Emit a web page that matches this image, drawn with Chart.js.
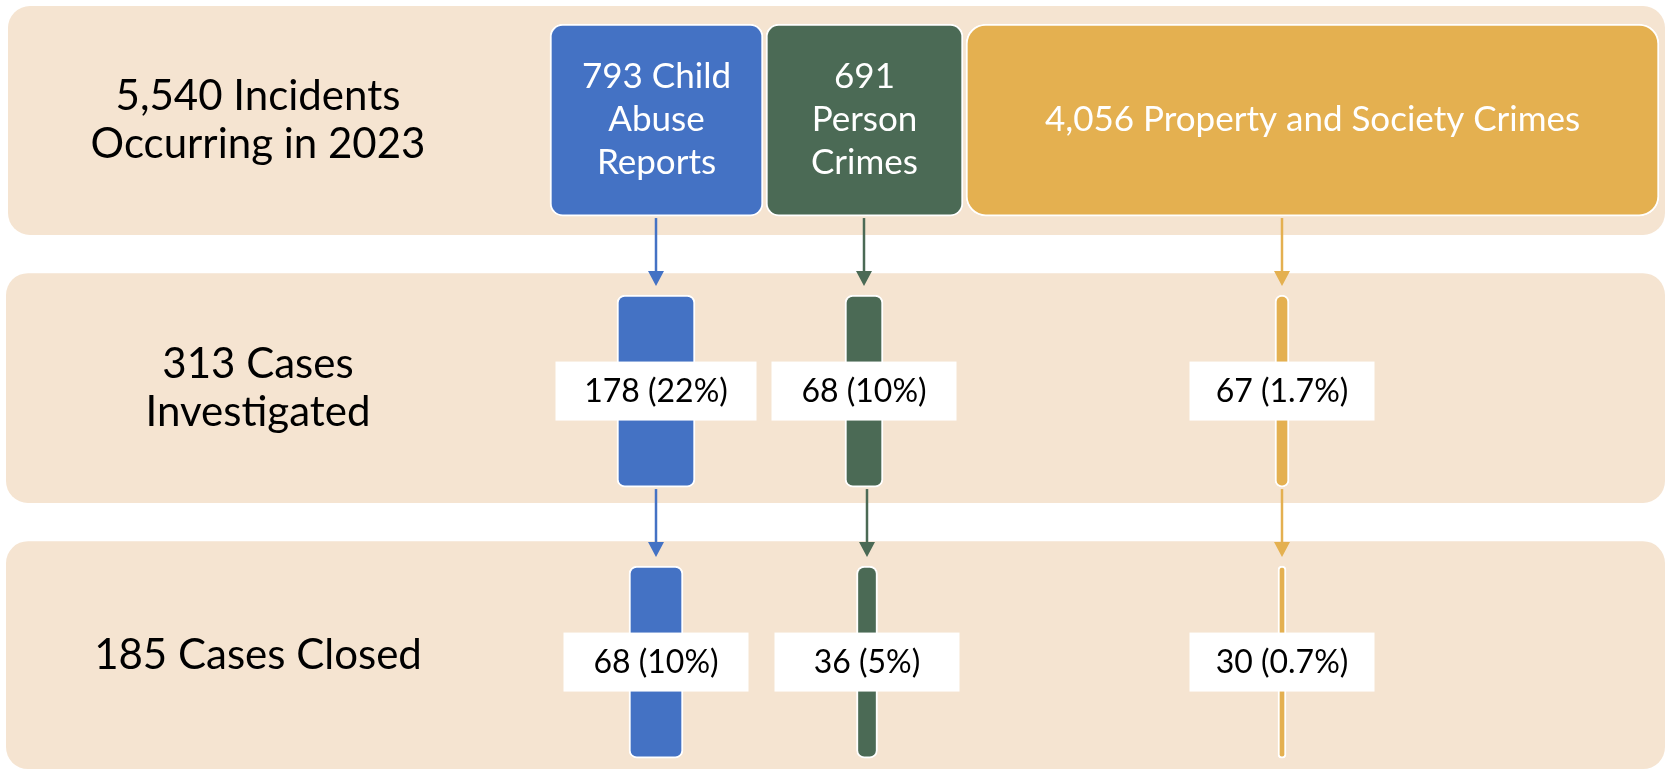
<!DOCTYPE html>
<html>
<head>
<meta charset="utf-8">
<title>Incidents to closed cases, 2023</title>
<script src="https://cdn.jsdelivr.net/npm/chart.js@4/dist/chart.umd.min.js"></script>
<style>
  html, body { margin: 0; padding: 0; background: #fff; }
  #wrap { width: 1671px; height: 771px; }
</style>
</head>
<body>
<div id="wrap"><canvas id="flowChart" width="1671" height="771"></canvas></div>
<script>
(function () {
  "use strict";

  // ── data ────────────────────────────────────────────────
  var STAGE_LABELS = [
    ["5,540 Incidents", "Occurring in 2023"],
    ["313 Cases", "Investigated"],
    ["185 Cases Closed"]
  ];
  var CATEGORIES = ["Child Abuse Reports", "Person Crimes", "Property and Society Crimes"];
  var INCIDENTS = [793, 691, 4056];
  var INVESTIGATED = [178, 68, 67];
  var CLOSED = [68, 36, 30];
  var PCT_INVESTIGATED = ["22%", "10%", "1.7%"];
  var PCT_CLOSED = ["10%", "5%", "0.7%"];

  var STAGE_COUNTS = [INCIDENTS, INVESTIGATED, CLOSED];
  var STAGE_PCTS = [null, PCT_INVESTIGATED, PCT_CLOSED];

  // ── layout / styles (x-axis units = px right of the title gutter) ──
  var GUTTER = 516;
  var BOX_SPAN = [[34, 247], [250, 447], [450, 1143]];   // first row boxes
  var COL_X = [[140, 348, 766], [140, 351, 766]];        // stage 2 / 3 bar centres
  var BAR_W = [[78, 38, 14], [54, 21, 8]];               // stage 2 / 3 bar widths
  var LABEL_W = [[201, 185, 185], [185, 185, 185]];
  var BAND_SPAN = [[-0.421, 0.424], [-0.435, 0.413], [-0.446, 0.395]];
  var COLORS = ["#4472C4", "#4B6A55", "#E4B050"];
  var BOX_RADIUS = [13, 13, 20];
  var BAND_COLOR = "#F5E4D1";
  var FONT = "Lato, 'Noto Sans', sans-serif";

  var datasets = CATEGORIES.map(function (name, c) {
    return {
      label: name,
      data: STAGE_COUNTS.map(function (counts, s) {
        var span = s === 0 ? BOX_SPAN[c] :
          [COL_X[s - 1][c] - BAR_W[s - 1][c] / 2, COL_X[s - 1][c] + BAR_W[s - 1][c] / 2];
        return { x: span, y: s, count: counts[c] };
      }),
      backgroundColor: COLORS[c],
      borderColor: "#ffffff",
      borderWidth: 2,
      borderSkipped: false,
      borderRadius: function (ctx) {
        return ctx.dataIndex === 0 ? BOX_RADIUS[c] : 8;
      },
      barThickness: 192,
      grouped: false
    };
  });

  function wrapLines(ctx, text, maxW) {
    var words = text.split(" ");
    var lines = [];
    var line = "";
    words.forEach(function (w) {
      var test = line ? line + " " + w : w;
      if (line && ctx.measureText(test).width > maxW) {
        lines.push(line);
        line = w;
      } else {
        line = test;
      }
    });
    lines.push(line);
    return lines;
  }

  // ── beige bands behind each stage ───────────────────────
  var bandPlugin = {
    id: "bands",
    beforeDatasetsDraw: function (chart) {
      var ctx = chart.ctx;
      var y = chart.scales.y;
      ctx.save();
      ctx.fillStyle = BAND_COLOR;
      STAGE_LABELS.forEach(function (_, i) {
        var top = y.getPixelForValue(i + BAND_SPAN[i][0]);
        var bottom = y.getPixelForValue(i + BAND_SPAN[i][1]);
        var left = i === 0 ? 8 : 6;
        ctx.beginPath();
        ctx.roundRect(left, top, chart.width - 6 - left, bottom - top, 22);
        ctx.fill();
      });

      // stage titles, centred in the gutter
      ctx.fillStyle = "#000";
      ctx.font = "42px " + FONT;
      ctx.textAlign = "center";
      ctx.textBaseline = "middle";
      STAGE_LABELS.forEach(function (lines, i) {
        var mid = (y.getPixelForValue(i + BAND_SPAN[i][0]) + y.getPixelForValue(i + BAND_SPAN[i][1])) / 2;
        var lh = 48;
        lines.forEach(function (t, k) {
          ctx.fillText(t, chart.chartArea.left / 2, mid + (k - (lines.length - 1) / 2) * lh);
        });
      });
      ctx.restore();
    }
  };

  // ── arrows, box captions and value labels ───────────────
  var overlayPlugin = {
    id: "overlay",
    afterDatasetsDraw: function (chart) {
      var ctx = chart.ctx;
      ctx.save();
      chart.data.datasets.forEach(function (ds, c) {
        var els = chart.getDatasetMeta(c).data;

        // arrows between stages
        for (var s = 1; s < els.length; s++) {
          var prev = els[s - 1], next = els[s];
          var ax = (next.x + next.base) / 2;
          var y0 = prev.y + prev.height / 2 + 2;
          var tip = next.y - next.height / 2 - 9;
          ctx.strokeStyle = COLORS[c];
          ctx.fillStyle = COLORS[c];
          ctx.lineWidth = 2.5;
          ctx.beginPath();
          ctx.moveTo(ax, y0);
          ctx.lineTo(ax, tip - 12);
          ctx.stroke();
          ctx.beginPath();
          ctx.moveTo(ax - 8, tip - 15);
          ctx.lineTo(ax + 8, tip - 15);
          ctx.lineTo(ax, tip);
          ctx.closePath();
          ctx.fill();
        }

        // first-row captions
        var box = els[0];
        var bx = (box.x + box.base) / 2;
        ctx.font = "35px " + FONT;
        ctx.fillStyle = "#ffffff";
        ctx.textAlign = "center";
        ctx.textBaseline = "middle";
        var caption = INCIDENTS[c].toLocaleString("en-US") + " " + CATEGORIES[c];
        var lines = wrapLines(ctx, caption, Math.abs(box.x - box.base) - 36);
        lines.forEach(function (t, k) {
          ctx.fillText(t, bx, box.y + (k - (lines.length - 1) / 2) * 43);
        });

        // value labels on stage 2 / 3
        ctx.font = "32px " + FONT;
        for (var t = 1; t < els.length; t++) {
          var el = els[t];
          var cx = (el.x + el.base) / 2;
          var w = LABEL_W[t - 1][c];
          var h = 59;
          ctx.fillStyle = "#ffffff";
          ctx.fillRect(cx - w / 2, el.y - h / 2, w, h);
          ctx.fillStyle = "#000000";
          ctx.fillText(STAGE_COUNTS[t][c] + " (" + STAGE_PCTS[t][c] + ")", cx, el.y + 1);
        }
      });
      ctx.restore();
    }
  };

  function draw() {
    new Chart(document.getElementById("flowChart"), {
      type: "bar",
      data: { datasets: datasets },
      options: {
        responsive: false,
        animation: false,
        events: [],
        indexAxis: "y",
        layout: { padding: { left: GUTTER, right: 0, top: 0, bottom: 0 } },
        plugins: {
          legend: { display: false },
          tooltip: { enabled: false }
        },
        scales: {
          x: { type: "linear", display: false, offset: false, min: 0, max: 1671 - GUTTER },
          y: { type: "linear", display: false, offset: false, reverse: true, min: -0.443, max: 2.402 }
        }
      },
      plugins: [bandPlugin, overlayPlugin]
    });
  }

  if (document.fonts && document.fonts.load) {
    Promise.all([
      document.fonts.load("42px Lato"),
      document.fonts.load("32px Lato")
    ]).then(draw, draw);
  } else {
    draw();
  }
})();
</script>
</body>
</html>
